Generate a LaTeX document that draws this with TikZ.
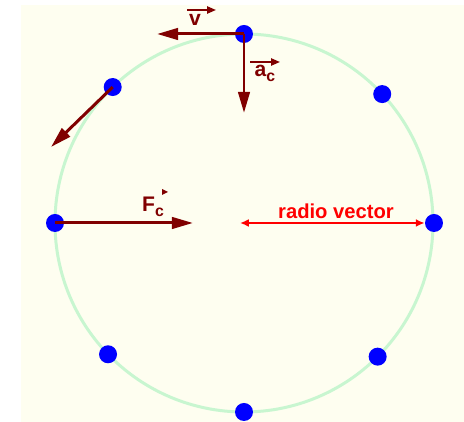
\documentclass[tikz,border=0pt]{standalone}
\usepackage{fontspec}
\setmainfont{Liberation Sans}
\usetikzlibrary{arrows.meta}

\definecolor{cream}{RGB}{254,254,240}
\definecolor{orbitgreen}{RGB}{200,246,208}
\definecolor{darkmaroon}{RGB}{128,0,0}
\definecolor{dotblue}{RGB}{0,0,255}
\newcommand{\subc}{\raisebox{-0.45ex}{\fontsize{9}{9}\selectfont c}}

\begin{document}
\begin{tikzpicture}[x=0.02cm, y=0.02cm,
    dot/.style={circle, fill=dotblue, inner sep=0pt, minimum size=0.36cm},
    vecarrow/.style={darkmaroon, line width=1.7pt, -{Triangle[length=12pt, width=6.5pt]}},
    overarrow/.style={darkmaroon, line width=1pt, -{Triangle[length=5pt, width=4pt]}},
    vectext/.style={darkmaroon, font=\fontsize{12}{12}\selectfont\bfseries, inner sep=0pt}]
    % Background
    \useasboundingbox (0,0) rectangle (464,422);
    \fill[cream] (21,0) rectangle (464,417);

    % Orbit
    \coordinate (ctr) at (244,199);
    \draw[orbitgreen, line width=1.7pt] (ctr) circle[radius=189];

    % Positions along the orbit
    \node[dot] (top) at (244,388) {};
    \node[dot] (ul) at ([shift={(134:189)}]ctr) {};
    \node[dot] (ur) at ([shift={(43:189)}]ctr) {};
    \node[dot] (lt) at (55,199) {};
    \node[dot] (rt) at (434,199) {};
    \node[dot] (ll) at ([shift={(224:189)}]ctr) {};
    \node[dot] (lr) at ([shift={(315:189)}]ctr) {};
    \node[dot] (bot) at (244,10) {};

    % Velocity and acceleration at the top
    \coordinate (vtip) at (157,388);
    \coordinate (atip) at (244,309);
    \draw[vecarrow] (top.center) -- (vtip);
    \draw[vecarrow] (top.center) -- (atip);
    \node[vectext] (vtext) at (195,402) {v};
    \draw[overarrow] (187,412) -- (216,412);
    \node[vectext] (atext) at (265,349) {a\subc};
    \draw[overarrow] (250,360) -- (280,360);

    % Tangent velocity
    \coordinate (ttip) at (51,275);
    \draw[vecarrow] (ul.center) -- (ttip);

    % Centripetal force
    \coordinate (ftip) at (193,199);
    \draw[vecarrow] (lt.center) -- (ftip);
    \node[vectext] (ftext) at (153,215) {F\subc};
    \fill[darkmaroon] (162,233) -- (168,230) -- (162,227) -- cycle;

    % Radius
    \coordinate (rstart) at (240,199);
    \draw[red, line width=1.1pt, {Latex[length=5pt, width=4.5pt]}-{Latex[length=5pt, width=4.5pt]}] (rstart) -- (rt.west);
    \node[red, font=\fontsize{11.5}{11.5}\selectfont\bfseries, inner sep=0pt] (rtext) at (336,211) {radio vector};
\end{tikzpicture}
\end{document}
